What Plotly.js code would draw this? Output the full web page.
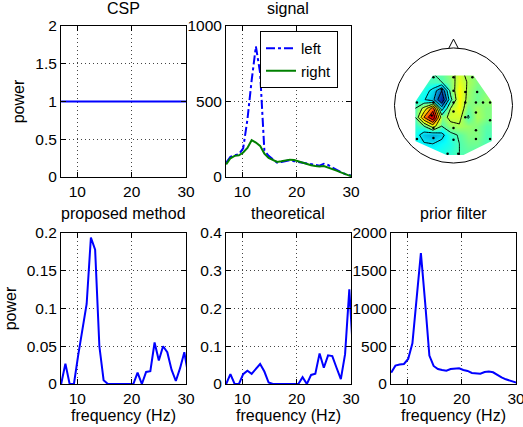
<!DOCTYPE html>
<html>
<head>
<meta charset="utf-8">
<script src="https://cdn.plot.ly/plotly-3.0.1.min.js"></script>
<style>
  html, body { margin: 0; padding: 0; background: #fff; }
  #chart { width: 523px; height: 427px; }
</style>
</head>
<body>
<div id="chart"></div>
<script>
// Frequency bins (Hz), 0.78125 Hz resolution
const freq = [7.03, 7.81, 8.59, 9.38, 10.16, 10.94, 11.72, 12.50, 13.28, 14.06, 14.84,
              15.63, 16.41, 17.19, 17.97, 18.75, 19.53, 20.31, 21.09, 21.88, 22.66,
              23.44, 24.22, 25.00, 25.78, 26.56, 27.34, 28.13, 28.91, 29.69, 30.47];

// CSP spectral weights (flat)
const cspPower = [1, 1, 1, 1, 1, 1, 1, 1, 1, 1, 1, 1, 1, 1, 1, 1, 1, 1, 1, 1, 1,
                  1, 1, 1, 1, 1, 1, 1, 1, 1, 1];

// Signal power spectra for the two classes
const signalLeft = [95, 133, 144, 151, 190, 380, 640, 865, 690, 175, 140, 115, 95, 100,
                    108, 112, 105, 100, 92, 85, 82, 78, 75, 88, 80, 62, 45, 33, 20, 10, 5];
const signalRight = [84, 124, 140, 144, 162, 193, 244, 228, 206, 155, 126, 115, 100, 104,
                     111, 115, 113, 104, 95, 84, 78, 73, 69, 73, 64, 55, 42, 31, 20, 9, 5];

// Learned spectral filters
const proposedPower = [0, 0.027, 0, 0, 0.038, 0.074, 0.106, 0.194, 0.178, 0.05, 0.005,
                       0, 0, 0, 0, 0, 0, 0, 0.015, 0, 0.016, 0.017, 0.055, 0.031, 0.050,
                       0.042, 0.019, 0.004, 0.021, 0.042, 0.01];
const theoreticalPower = [0, 0.026, 0, 0, 0.026, 0.035, 0.027, 0.04, 0.053, 0.033, 0.004,
                          0, 0, 0, 0, 0, 0, 0, 0.018, 0, 0.024, 0.027, 0.081, 0.043, 0.076,
                          0.074, 0.043, 0.013, 0.079, 0.251, 0.06];
const priorPower = [150, 243, 257, 265, 332, 540, 1137, 1735, 1080, 376, 239, 199, 186,
                    177, 199, 208, 208, 186, 173, 146, 142, 137, 159, 164, 155, 120, 88,
                    62, 44, 27, 9];

// Scalp map: normalised pattern values on a grid (head radius = 1)
const topoU = [-0.65, -0.5, -0.35, -0.2, -0.05, 0.1, 0.25, 0.4, 0.55, 0.7];
const topoV = [0.55, 0.4, 0.25, 0.1, -0.05, -0.2, -0.35, -0.5, -0.65, -0.8, -0.9];
const topoZ = [
  [0.45, 0.45, 0.45, 0.47, 0.52, 0.58, 0.52, 0.50, 0.48, 0.48],
  [0.44, 0.44, 0.44, 0.45, 0.50, 0.60, 0.54, 0.50, 0.48, 0.48],
  [0.42, 0.40, 0.32, 0.15, 0.48, 0.63, 0.53, 0.48, 0.50, 0.50],
  [0.42, 0.36, 0.28, 0.05, 0.42, 0.63, 0.52, 0.48, 0.52, 0.52],
  [0.45, 0.58, 0.80, 0.30, 0.55, 0.62, 0.48, 0.53, 0.50, 0.50],
  [0.45, 0.75, 0.95, 0.50, 0.58, 0.58, 0.44, 0.54, 0.50, 0.50],
  [0.42, 0.45, 0.60, 0.45, 0.52, 0.54, 0.52, 0.50, 0.46, 0.46],
  [0.40, 0.30, 0.27, 0.32, 0.42, 0.46, 0.50, 0.50, 0.45, 0.45],
  [0.40, 0.36, 0.35, 0.38, 0.40, 0.45, 0.48, 0.48, 0.45, 0.45],
  [0.40, 0.40, 0.40, 0.40, 0.42, 0.45, 0.46, 0.45, 0.45, 0.45],
  [0.40, 0.40, 0.40, 0.42, 0.43, 0.45, 0.45, 0.45, 0.45, 0.45]
];

// Electrode positions (head radius = 1)
const elecU = [-0.34, 0.0, 0.32,
               -0.2, 0.0, 0.2, 0.4,
               -0.62, -0.34, 0.0, 0.2, 0.38, 0.5, 0.62,
               -0.37, 0.0, 0.2, 0.38, 0.62,
               -0.34, 0.0, 0.38,
               -0.62, -0.34, 0.0, 0.38, 0.62,
               -0.1, 0.08];
const elecV = [0.48, 0.48, 0.48,
               0.27, 0.25, 0.23, 0.23,
               0.05, 0.05, 0.05, 0.05, 0.05, 0.05, 0.05,
               -0.17, -0.1, -0.2, -0.12, -0.25,
               -0.38, -0.38, -0.42,
               -0.57, -0.55, -0.58, -0.57, -0.57,
               -0.82, -0.82];

// Outline of the electrode montage (interpolation area)
const montageHull = [[-0.35, 0.51], [0.34, 0.51], [0.65, 0.06], [0.65, -0.6],
                     [0.17, -0.84], [-0.12, -0.84], [-0.65, -0.6], [-0.65, 0.06]];

const W = 523, H = 427;
const FONT = 'Liberation Sans, Arial, Helvetica, sans-serif';
const BLUE = '#0000ff', GREEN = '#008000';
const TICK_SIZE = 15.5, TEXT_SIZE = 16;

// pixel box -> paper domain
function dom(x0, x1, y0, y1) {
  return { x: [x0 / W, x1 / W], y: [1 - y1 / H, 1 - y0 / H] };
}
const boxes = {
  csp:   dom(61, 186, 26, 177),
  sig:   dom(226, 351, 26, 177),
  topo:  dom(391, 516, 26, 177),
  prop:  dom(61, 186, 233, 384),
  theo:  dom(226, 351, 233, 384),
  prior: dom(391, 516, 233, 384)
};

function baseAxis(d) {
  return {
    domain: d,
    ticks: 'inside', ticklen: 5, tickcolor: '#000', tickwidth: 1,
    showline: true, linecolor: '#000', linewidth: 1, mirror: 'ticks',
    showgrid: true, gridcolor: '#444', gridwidth: 1, griddash: '1px,3px',
    zeroline: false, fixedrange: true, ticklabeloverflow: 'allow',
    tickfont: { size: TICK_SIZE, color: '#000' }
  };
}
function freqAxis(d, withTitle) {
  const ax = Object.assign(baseAxis(d), { range: [7, 30], tickvals: [10, 20, 30] });
  if (withTitle) ax.title = { text: 'frequency (Hz)', font: { size: TEXT_SIZE }, standoff: 0 };
  return ax;
}
function powerAxis(d, range, vals, withTitle) {
  const ax = Object.assign(baseAxis(d), { range: range, tickvals: vals });
  if (withTitle) ax.title = { text: 'power', font: { size: TEXT_SIZE }, standoff: 6 };
  return ax;
}

const lineStyle = (c) => ({ color: c, width: 2 });

const traces = [
  { x: freq, y: cspPower, xaxis: 'x', yaxis: 'y', type: 'scatter', mode: 'lines',
    line: lineStyle(BLUE), showlegend: false, hoverinfo: 'skip' },
  { x: freq, y: signalLeft, xaxis: 'x2', yaxis: 'y2', type: 'scatter', mode: 'lines',
    name: 'left', line: { color: BLUE, width: 2, dash: 'dashdot' } },
  { x: freq, y: signalRight, xaxis: 'x2', yaxis: 'y2', type: 'scatter', mode: 'lines',
    name: 'right', line: lineStyle(GREEN) },
  { type: 'contour', x: topoU, y: topoV, z: topoZ, xaxis: 'x3', yaxis: 'y3',
    colorscale: 'Jet', zmin: 0, zmax: 1, showscale: false, showlegend: false,
    contours: { coloring: 'heatmap', start: 0.15, end: 0.9, size: 0.1, showlines: true },
    line: { color: '#000', width: 1, smoothing: 0 }, hoverinfo: 'skip' },
  { x: elecU, y: elecV, xaxis: 'x3', yaxis: 'y3', type: 'scatter', mode: 'markers',
    marker: { color: '#000', size: 2.5 }, showlegend: false, hoverinfo: 'skip' },
  { x: freq, y: proposedPower, xaxis: 'x4', yaxis: 'y4', type: 'scatter', mode: 'lines',
    line: lineStyle(BLUE), showlegend: false },
  { x: freq, y: theoreticalPower, xaxis: 'x5', yaxis: 'y5', type: 'scatter', mode: 'lines',
    line: lineStyle(BLUE), showlegend: false },
  { x: freq, y: priorPower, xaxis: 'x6', yaxis: 'y6', type: 'scatter', mode: 'lines',
    line: lineStyle(BLUE), showlegend: false }
];

// Topomap axes: 1 head radius = 59 px
const topoX = { domain: boxes.topo.x, range: [-1.059, 1.059], visible: false, fixedrange: true };
const topoY = { domain: boxes.topo.y, range: [-1.212, 1.347], visible: false, fixedrange: true };

// Mask outside the montage (rectangle with a hole), head outline and nose
let maskPath = 'M -1.3,-1.4 L -1.3,1.5 L 1.3,1.5 L 1.3,-1.4 Z ';
maskPath += 'M ' + montageHull.map(p => p[0] + ',' + p[1]).join(' L ') + ' Z';

const shapes = [
  { type: 'path', xref: 'x3', yref: 'y3', path: maskPath, fillcolor: '#fff',
    fillrule: 'evenodd', line: { width: 0 }, layer: 'above' },
  { type: 'circle', xref: 'x3', yref: 'y3', x0: -1, x1: 1, y0: -0.975, y1: 0.975,
    line: { color: '#000', width: 1 }, layer: 'above' },
  { type: 'path', xref: 'x3', yref: 'y3', path: 'M -0.08,0.97 L 0,1.125 L 0.08,0.97',
    line: { color: '#000', width: 1 }, layer: 'above' }
];

function title(text, px, py) {
  return { text: text, x: px / W, y: 1 - py / H, xref: 'paper', yref: 'paper',
           xanchor: 'center', yanchor: 'middle', showarrow: false,
           font: { size: TEXT_SIZE, color: '#000' } };
}

const layout = {
  width: W, height: H,
  margin: { l: 0, r: 0, t: 0, b: 0 },
  paper_bgcolor: '#fff', plot_bgcolor: '#fff',
  font: { family: FONT, size: TEXT_SIZE, color: '#000' },
  xaxis: Object.assign(freqAxis(boxes.csp.x, false), { anchor: 'y' }),
  yaxis: Object.assign(powerAxis(boxes.csp.y, [0, 2], [0, 0.5, 1, 1.5, 2], true), { anchor: 'x' }),
  xaxis2: Object.assign(freqAxis(boxes.sig.x, false), { anchor: 'y2' }),
  yaxis2: Object.assign(powerAxis(boxes.sig.y, [0, 1000], [0, 500, 1000], false), { anchor: 'x2' }),
  xaxis3: Object.assign(topoX, { anchor: 'y3' }),
  yaxis3: Object.assign(topoY, { anchor: 'x3' }),
  xaxis4: Object.assign(freqAxis(boxes.prop.x, true), { anchor: 'y4' }),
  yaxis4: Object.assign(powerAxis(boxes.prop.y, [0, 0.2], [0, 0.05, 0.1, 0.15, 0.2], true), { anchor: 'x4' }),
  xaxis5: Object.assign(freqAxis(boxes.theo.x, true), { anchor: 'y5' }),
  yaxis5: Object.assign(powerAxis(boxes.theo.y, [0, 0.4], [0, 0.1, 0.2, 0.3, 0.4], false), { anchor: 'x5' }),
  xaxis6: Object.assign(freqAxis(boxes.prior.x, true), { anchor: 'y6' }),
  yaxis6: Object.assign(powerAxis(boxes.prior.y, [0, 2000], [0, 500, 1000, 1500, 2000], false), { anchor: 'x6' }),
  showlegend: true,
  legend: {
    x: 260 / W, y: 1 - 31 / H, xanchor: 'left', yanchor: 'top',
    bgcolor: '#fff', bordercolor: '#000', borderwidth: 1,
    font: { size: 15, color: '#000' }, tracegroupgap: 0, itemwidth: 30
  },
  shapes: shapes,
  annotations: [
    title('CSP', 123, 8),
    title('signal', 288, 8),
    title('proposed method', 123, 213),
    title('theoretical', 288, 213),
    title('prior filter', 453, 213)
  ]
};

Plotly.newPlot('chart', traces, layout, { staticPlot: true, displayModeBar: false });
</script>
</body>
</html>
